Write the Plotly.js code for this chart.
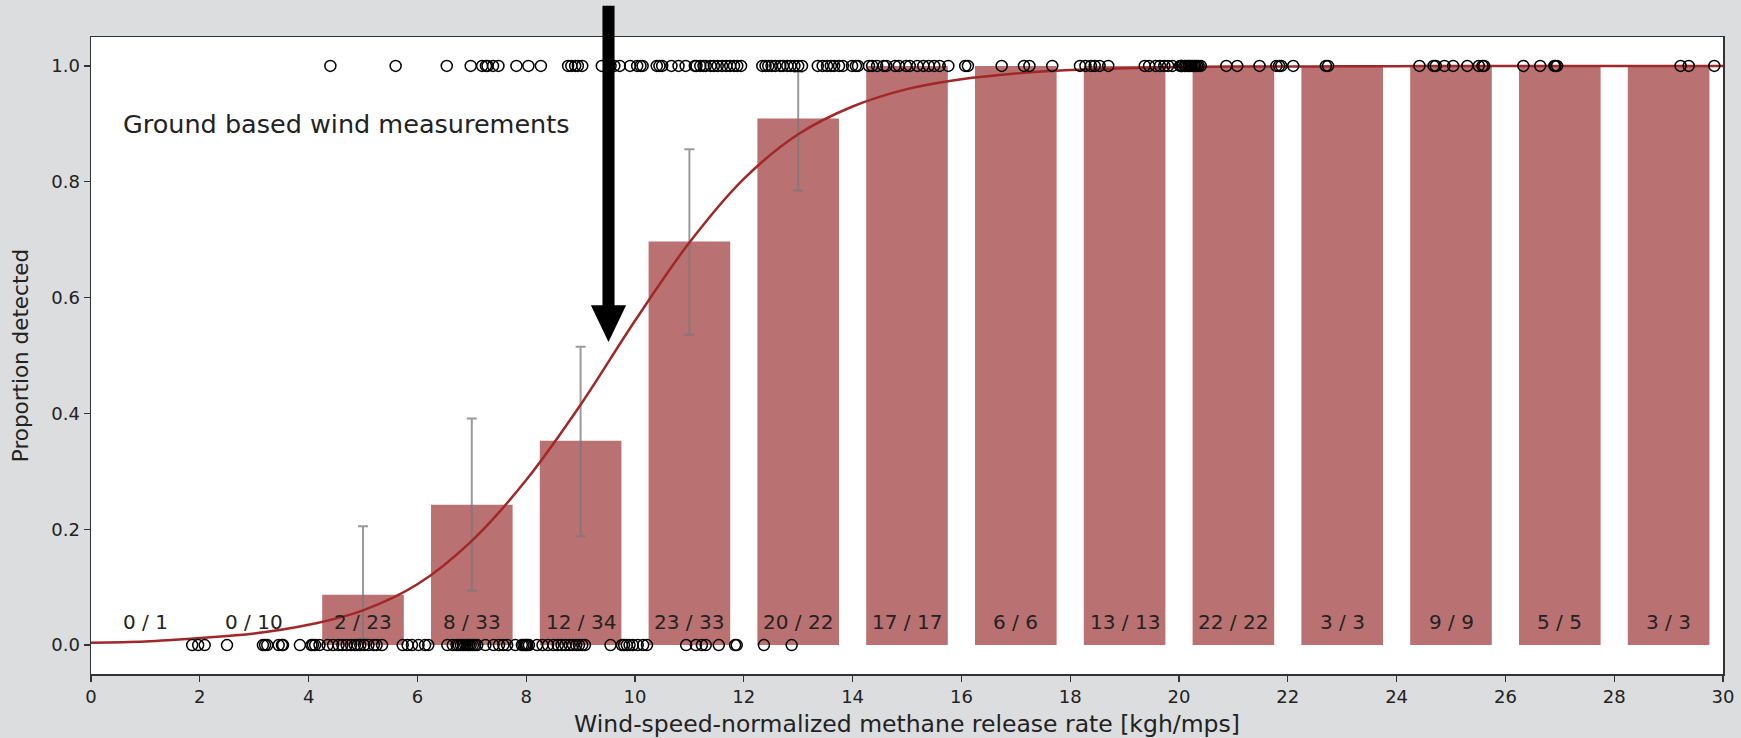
<!DOCTYPE html>
<html>
<head>
<meta charset="utf-8">
<script src="https://cdn.plot.ly/plotly-3.0.1.min.js"></script>
<style>
  html, body { margin: 0; padding: 0; background: rgb(220,221,223); }
  #chart { width: 1741px; height: 738px; }
</style>
</head>
<body>
<div id="chart"></div>
<script>
// ---- data ----
const binCenters = [1, 3, 5, 7, 9, 11, 13, 15, 17, 19, 21, 23, 25, 27, 29];
const detected   = [0, 0, 2, 8, 12, 23, 20, 17, 6, 13, 22, 3, 9, 5, 3];
const totals     = [1, 10, 23, 33, 34, 33, 22, 17, 6, 13, 22, 3, 9, 5, 3];

// confidence intervals shown as error bars (only the bins that show them)
const ciCenters = [5, 7, 9, 11, 13];
const ciLow     = [0.011, 0.094, 0.188, 0.536, 0.785];
const ciHigh    = [0.205, 0.391, 0.515, 0.856, 0.990];

// fitted detection curve
const curveX = [0,1,2,3,4,5,6,7,8,9,10,11,12,13,14,15,16,17,18,19,20,21,22,23,24,25,26,27,28,29,30];
const curveY = [0.004,0.006,0.012,0.020,0.035,0.060,0.105,0.180,0.285,0.415,0.560,0.695,0.805,0.882,0.930,0.960,0.977,0.987,0.993,0.996,0.998,0.999,0.999,0.9995,0.9997,0.9998,0.9999,0.9999,1.0,1.0,1.0];

// individual releases: detected (y = 1) and not detected (y = 0)
const detectedX = [
  4.40, 5.60,
  6.54, 6.98, 7.19, 7.26, 7.29, 7.39, 7.49, 7.82,
  8.04, 8.27, 8.77, 8.83, 8.90, 8.95, 9.03, 9.39, 9.55, 9.62, 9.72, 9.91,
  10.04, 10.10, 10.14, 10.40, 10.45, 10.50, 10.67, 10.80, 10.93, 11.10, 11.13, 11.20, 11.26, 11.30, 11.39, 11.45, 11.52, 11.60, 11.68, 11.75, 11.82, 11.88, 11.95,
  12.34, 12.40, 12.45, 12.51, 12.58, 12.67, 12.72, 12.80, 12.86, 12.93, 13.00, 13.07, 13.36, 13.45, 13.53, 13.60, 13.66, 13.75, 13.82, 13.99,
  14.06, 14.10, 14.30, 14.36, 14.45, 14.57, 14.62, 14.78, 14.85, 14.98, 15.05, 15.19, 15.30, 15.40, 15.50, 15.60, 15.76,
  16.07, 16.12, 16.74, 17.15, 17.25, 17.67,
  18.18, 18.28, 18.38, 18.45, 18.54, 18.70, 19.37, 19.45, 19.57, 19.65, 19.73, 19.80, 19.88,
  20.02, 20.04, 20.05, 20.06, 20.10, 20.12, 20.15, 20.18, 20.19, 20.22, 20.25, 20.28, 20.30, 20.33, 20.36, 20.40, 20.87, 21.07, 21.48, 21.79, 21.84, 21.88,
  22.10, 22.70, 22.74,
  24.42, 24.68, 24.72, 24.88, 25.04, 25.30, 25.51, 25.58, 25.61,
  26.33, 26.64, 26.90, 26.92, 26.95,
  29.22, 29.37, 29.84
];
const notDetectedX = [
  1.86,
  1.97, 2.09, 2.50, 3.16, 3.20, 3.24, 3.45, 3.51, 3.53, 3.84,
  4.05, 4.08, 4.12, 4.20, 4.35, 4.45, 4.55, 4.62, 4.70, 4.78, 4.85, 4.90, 4.95, 5.02, 5.10, 5.20, 5.25, 5.35, 5.73, 5.82, 5.90,
  6.02, 6.14, 6.20, 6.55, 6.65, 6.72, 6.76, 6.80, 6.84, 6.88, 6.92, 6.95, 6.98, 7.02, 7.06, 7.10, 7.25, 7.40, 7.50, 7.58, 7.65, 7.80, 7.92, 7.95, 7.98,
  8.00, 8.02, 8.05, 8.20, 8.30, 8.40, 8.50, 8.58, 8.65, 8.72, 8.80, 8.86, 8.92, 8.97, 9.03, 9.08, 9.55, 9.76, 9.80, 9.85, 9.90, 9.96,
  10.05, 10.15, 10.22, 10.94, 11.12, 11.23, 11.30, 11.54, 11.84, 11.87,
  12.37, 12.88
];

const xTickVals = [0,2,4,6,8,10,12,14,16,18,20,22,24,26,28,30];
const yTickVals = [0, 0.2, 0.4, 0.6, 0.8, 1.0];
const xTitle = 'Wind-speed-normalized methane release rate [kgh/mps]';
const yTitle = 'Proportion detected';
const panelLabel = 'Ground based wind measurements';

// ---- derived ----
const proportion = detected.map((d, i) => d / totals[i]);
const countLabels = detected.map((d, i) => d + ' / ' + totals[i]);
const ciMid = ciCenters.map(c => proportion[binCenters.indexOf(c)]);

const traces = [
  {
    type: 'bar', x: binCenters, y: proportion, width: 1.5,
    marker: { color: 'rgb(186,113,113)', line: { width: 0 } },
    hoverinfo: 'skip'
  },
  {
    type: 'scatter', mode: 'markers', x: ciCenters, y: ciMid,
    marker: { size: 1, opacity: 0 },
    error_y: {
      type: 'data', symmetric: false,
      array: ciHigh.map((h, i) => h - ciMid[i]),
      arrayminus: ciLow.map((l, i) => ciMid[i] - l),
      color: 'rgba(120,120,120,0.75)', thickness: 2, width: 5
    },
    hoverinfo: 'skip'
  },
  {
    type: 'scatter', mode: 'lines', x: curveX, y: curveY,
    line: { color: 'rgb(160,40,40)', width: 2.5, shape: 'spline', smoothing: 1 },
    hoverinfo: 'skip'
  },
  {
    type: 'scatter', mode: 'markers', x: detectedX, y: detectedX.map(() => 1),
    marker: { symbol: 'circle-open', size: 11, color: 'black', line: { width: 1.5, color: 'black' } },
    hoverinfo: 'skip'
  },
  {
    type: 'scatter', mode: 'markers', x: notDetectedX, y: notDetectedX.map(() => 0),
    marker: { symbol: 'circle-open', size: 11, color: 'black', line: { width: 1.5, color: 'black' } },
    hoverinfo: 'skip'
  }
];

const annotations = binCenters.map((c, i) => ({
  x: c, y: 0.04, xref: 'x', yref: 'y', text: countLabels[i], showarrow: false,
  font: { family: 'DejaVu Sans', size: 20, color: '#222' }, xanchor: 'center', yanchor: 'middle'
}));
annotations.push({
  x: 0.55, y: 0.90, xref: 'x', yref: 'y', text: panelLabel, showarrow: false,
  font: { family: 'DejaVu Sans', size: 25.5, color: '#222' }, xanchor: 'left', yanchor: 'middle'
});

// black arrow (paper coordinates)
const ax = 0.3171, shaftHalf = 0.0037, headHalf = 0.0108;
const shapes = [
  { type: 'rect', xref: 'paper', yref: 'paper', x0: ax - shaftHalf, x1: ax + shaftHalf, y0: 0.575, y1: 1.049,
    fillcolor: 'black', line: { width: 0 }, layer: 'above' },
  { type: 'path', xref: 'paper', yref: 'paper',
    path: `M ${ax - headHalf},0.579 L ${ax + headHalf},0.579 L ${ax},0.521 Z`,
    fillcolor: 'black', line: { width: 0 }, layer: 'above' }
];

const axisCommon = {
  showgrid: false, zeroline: false, showline: true, mirror: true,
  linecolor: '#333', linewidth: 1.5, ticks: 'outside', ticklen: 6, tickwidth: 1.3, tickcolor: '#333',
  tickfont: { family: 'DejaVu Sans', size: 18, color: '#222' }
};

const layout = {
  width: 1741, height: 738,
  paper_bgcolor: 'rgb(220,221,223)', plot_bgcolor: 'white',
  margin: { l: 91, r: 18, t: 37, b: 64 },
  showlegend: false,
  xaxis: Object.assign({}, axisCommon, {
    range: [0, 30], tickvals: xTickVals, ticktext: xTickVals.map(String),
    title: { text: xTitle, font: { family: 'DejaVu Sans', size: 23.5, color: '#222' }, standoff: 10 },
    automargin: false
  }),
  yaxis: Object.assign({}, axisCommon, {
    range: [-0.05, 1.05], tickvals: yTickVals, ticktext: yTickVals.map(v => v.toFixed(1)),
    title: { text: yTitle, font: { family: 'DejaVu Sans', size: 21.5, color: '#222' }, standoff: 16 },
    automargin: false
  }),
  annotations: annotations,
  shapes: shapes
};

Plotly.newPlot('chart', traces, layout, { displayModeBar: false, staticPlot: true });
</script>
</body>
</html>
